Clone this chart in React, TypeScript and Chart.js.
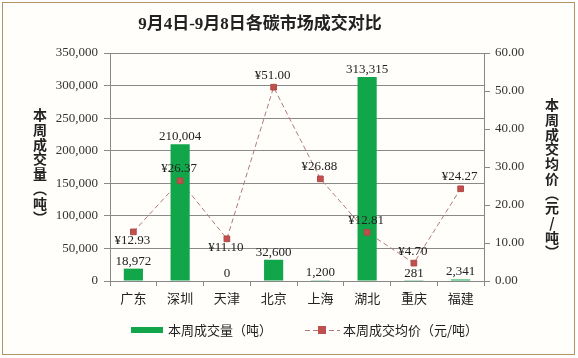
import React, { useEffect, useRef } from "react";
import { Chart, registerables } from "chart.js";

Chart.register(...registerables);

const categories = ["广东", "深圳", "天津", "北京", "上海", "湖北", "重庆", "福建"];
const volumes = [18972, 210004, 0, 32600, 1200, 313315, 281, 2341];
const prices = [12.93, 26.37, 11.1, 51.0, 26.88, 12.81, 4.7, 24.27];
const titleText = "9月4日-9月8日各碳市场成交对比";
const leftTitle = ["本", "周", "成", "交", "量", "︵", "吨", "︶"];
const rightTitle = ["本", "周", "成", "交", "均", "价", "︵", "元", "/", "吨", "︶"];
const legendBar = "本周成交量（吨）";
const legendLine = "本周成交均价（元/吨）";
const priceLabelBelow = [true, false, true, false, false, false, false, false];

const SERIF = "'Liberation Serif', 'Times New Roman', 'Noto Sans CJK SC', serif";
const SANS = "'Noto Sans CJK SC', 'Noto Sans', sans-serif";
const GREEN = "#12a64a";
const RED = "#c0504d";

const decorPlugin = {
  id: "decor",
  afterDatasetsDraw(chart: any) {
    const ctx = chart.ctx;
    ctx.save();
    // bar labels
    const barMeta = chart.getDatasetMeta(1);
    ctx.font = `13px ${SERIF}`;
    ctx.fillStyle = "#222";
    ctx.textAlign = "center";
    ctx.textBaseline = "bottom";
    barMeta.data.forEach((el: any, i: number) => {
      ctx.fillText(volumes[i].toLocaleString("en-US"), el.x, el.y - 1);
    });
    // price labels
    const ptMeta = chart.getDatasetMeta(2);
    ctx.textBaseline = "middle";
    ptMeta.data.forEach((el: any, i: number) => {
      const dy = priceLabelBelow[i] ? 9 : -12;
      ctx.fillText("¥" + prices[i].toFixed(2), el.x - 1, el.y + dy);
    });
    ctx.restore();
  },
  afterDraw(chart: any) {
    const ctx = chart.ctx;
    ctx.save();
    // title
    ctx.font = `bold 17px ${SERIF}`;
    ctx.fillStyle = "#222";
    ctx.textAlign = "center";
    ctx.textBaseline = "middle";
    ctx.fillText(titleText, 260, 25);
    // axis titles
    ctx.font = `bold 14px ${SANS}`;
    leftTitle.forEach((c, i) => ctx.fillText(c, 40, 115 + i * 14.7));
    rightTitle.forEach((c, i) => ctx.fillText(c, 552, 105 + i * 14.7));
    // legend
    ctx.fillStyle = GREEN;
    ctx.fillRect(131, 327, 32, 6);
    ctx.fillStyle = "#222";
    ctx.font = `13px ${SANS}`;
    ctx.textAlign = "left";
    ctx.fillText(legendBar, 168, 330);
    ctx.strokeStyle = "#b07a78";
    ctx.lineWidth = 1;
    ctx.setLineDash([5, 3]);
    ctx.beginPath();
    ctx.moveTo(305, 330.5);
    ctx.lineTo(340, 330.5);
    ctx.stroke();
    ctx.setLineDash([]);
    ctx.fillStyle = RED;
    ctx.fillRect(318, 326, 8, 8);
    ctx.fillStyle = "#222";
    ctx.fillText(legendLine, 343, 330);
    ctx.restore();
  },
};

export default function App() {
  const ref = useRef<HTMLCanvasElement>(null);
  useEffect(() => {
    document.body.style.margin = "0";
    const chart = new Chart(ref.current as HTMLCanvasElement, {
      type: "bar",
      data: {
        labels: categories,
        datasets: [
          {
            type: "line",
            label: legendLine,
            data: prices,
            yAxisID: "y1",
            borderColor: "#b07a78",
            borderWidth: 1,
            borderDash: [5, 3],
            pointRadius: 0,
            fill: false,
            order: 2,
          } as any,
          {
            type: "bar",
            label: legendBar,
            data: volumes,
            yAxisID: "y",
            backgroundColor: GREEN,
            barPercentage: 0.41,
            categoryPercentage: 1,
            order: 1,
          },
          {
            type: "line",
            label: legendLine,
            data: prices,
            yAxisID: "y1",
            showLine: false,
            pointStyle: "rect",
            pointRadius: 4,
            pointBackgroundColor: RED,
            pointBorderColor: "#b04844",
            pointBorderWidth: 1,
            order: 0,
          } as any,
        ],
      },
      options: {
        responsive: false,
        animation: false,
        devicePixelRatio: 1,
        layout: { padding: { top: 53, left: 0, right: 0, bottom: 0 } },
        plugins: {
          legend: { display: false },
          title: { display: false },
          tooltip: { enabled: false },
        },
        scales: {
          x: {
            offset: true,
            grid: {
              display: true,
              drawOnChartArea: false,
              drawTicks: true,
              tickLength: 5,
              offset: true,
              color: "#888",
            },
            border: { color: "#888" },
            ticks: { font: { family: SANS, size: 13 }, color: "#222", padding: 4 },
            afterFit: (s: any) => {
              s.height = 77;
            },
          },
          y: {
            position: "left",
            min: 0,
            max: 350000,
            ticks: {
              stepSize: 50000,
              font: { family: SERIF, size: 13 },
              color: "#333",
              padding: 6,
              callback: (v: any) => Number(v).toLocaleString("en-US"),
            },
            grid: { color: "#8a8a8a", tickLength: 6 },
            border: { color: "#888" },
            afterFit: (s: any) => {
              s.width = 110;
            },
          },
          y1: {
            position: "right",
            min: 0,
            max: 60,
            ticks: {
              stepSize: 10,
              font: { family: SERIF, size: 13 },
              color: "#333",
              padding: 5,
              callback: (v: any) => Number(v).toFixed(2),
            },
            grid: { drawOnChartArea: false, color: "#888", tickLength: 6 },
            border: { color: "#888" },
            afterFit: (s: any) => {
              s.width = 94;
            },
          },
        },
      },
      plugins: [decorPlugin],
    });
    return () => chart.destroy();
  }, []);
  return (
    <div style={{ position: "relative", width: 578, height: 358, background: "#fff" }}>
      <div
        style={{
          position: "absolute",
          left: 2,
          top: 2,
          width: 571,
          height: 351,
          border: "1.5px solid #b39266",
          background: "#fffefb",
        }}
      />
      <canvas ref={ref} width={578} height={358} style={{ position: "absolute", left: 0, top: 0 }} />
    </div>
  );
}
